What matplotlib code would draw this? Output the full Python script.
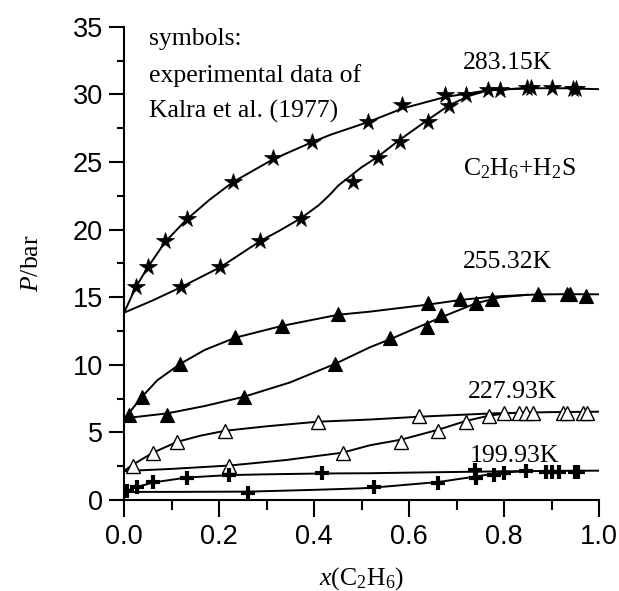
import matplotlib
matplotlib.use("Agg")
import matplotlib.pyplot as plt

# ---------------- data ----------------
# 283.15 K
s283_up_x = [0.025, 0.051, 0.087, 0.132, 0.229, 0.314, 0.395, 0.514, 0.586, 0.676, 0.721, 0.766, 0.792, 0.848, 0.857, 0.902, 0.946, 0.952]
s283_up_p = [15.75, 17.26, 19.13, 20.77, 23.54, 25.30, 26.48, 27.95, 29.20, 29.93, 29.93, 30.32, 30.32, 30.47, 30.47, 30.47, 30.40, 30.40]
s283_lo_x = [0.119, 0.203, 0.287, 0.373, 0.482, 0.535, 0.580, 0.640, 0.684]
s283_lo_p = [15.75, 17.26, 19.17, 20.77, 23.54, 25.30, 26.48, 27.95, 29.12]
c283_up_x = [0.0, 0.01, 0.025, 0.05, 0.087, 0.132, 0.18, 0.229, 0.314, 0.395, 0.434, 0.514, 0.586, 0.676, 0.767, 0.855, 0.925, 1.0]
c283_up_p = [13.85, 14.6, 15.75, 17.2, 19.1, 20.75, 22.2, 23.5, 25.2, 26.45, 27.0, 27.95, 28.95, 29.8, 30.3, 30.45, 30.45, 30.38]
c283_lo_x = [0.0, 0.06, 0.119, 0.203, 0.287, 0.33, 0.373, 0.41, 0.434, 0.451, 0.5, 0.535, 0.579, 0.639, 0.685, 0.728, 0.767, 0.83, 0.87]
c283_lo_p = [13.85, 14.75, 15.72, 17.22, 19.15, 19.97, 20.85, 21.8, 22.6, 23.25, 24.6, 25.4, 26.6, 28.1, 29.2, 29.9, 30.3, 30.43, 30.47]

# 255.32 K
s255_up_x = [0.011, 0.038, 0.118, 0.234, 0.332, 0.451, 0.639, 0.707, 0.774, 0.871, 0.932, 0.939, 0.972]
s255_up_p = [6.30, 7.64, 10.06, 12.05, 12.87, 13.72, 14.55, 14.86, 14.86, 15.21, 15.21, 15.21, 15.12]
s255_lo_x = [0.090, 0.253, 0.444, 0.561, 0.637, 0.667, 0.741]
s255_lo_p = [6.30, 7.64, 10.06, 11.96, 12.77, 13.68, 14.55]
c255_up_x = [0.0, 0.011, 0.038, 0.07, 0.118, 0.17, 0.234, 0.332, 0.451, 0.518, 0.64, 0.71, 0.78, 0.87, 0.93, 1.0]
c255_up_p = [6.04, 6.45, 7.64, 8.85, 10.06, 11.1, 12.0, 12.87, 13.7, 13.93, 14.45, 14.8, 15.05, 15.2, 15.22, 15.21]
c255_lo_x = [0.0, 0.09, 0.17, 0.253, 0.35, 0.444, 0.518, 0.561, 0.637, 0.667, 0.741, 0.792, 0.85]
c255_lo_p = [6.04, 6.4, 6.95, 7.64, 8.7, 10.06, 11.3, 11.9, 13.05, 13.5, 14.55, 14.99, 15.18]

# 227.93 K
s227_up_x = [0.018, 0.061, 0.112, 0.213, 0.408, 0.622, 0.800, 0.832, 0.846, 0.862, 0.924, 0.933, 0.966, 0.974]
s227_up_p = [2.53, 3.51, 4.31, 5.12, 5.79, 6.23, 6.46, 6.46, 6.46, 6.46, 6.46, 6.46, 6.46, 6.46]
s227_lo_x = [0.222, 0.460, 0.583, 0.662, 0.720, 0.769]
s227_lo_p = [2.51, 3.51, 4.31, 5.08, 5.75, 6.18]
c227_up_x = [0.0, 0.018, 0.061, 0.112, 0.16, 0.213, 0.3, 0.408, 0.518, 0.622, 0.778, 0.9, 1.0]
c227_up_p = [2.14, 2.6, 3.5, 4.3, 4.75, 5.12, 5.45, 5.79, 5.95, 6.16, 6.41, 6.5, 6.53]
c227_lo_x = [0.0, 0.1, 0.222, 0.342, 0.46, 0.518, 0.583, 0.662, 0.72, 0.769, 0.805, 0.85]
c227_lo_p = [2.14, 2.3, 2.55, 2.96, 3.5, 4.05, 4.46, 5.2, 5.85, 6.24, 6.41, 6.48]

# 199.93 K
s199_up_x = [0.028, 0.062, 0.132, 0.220, 0.416, 0.739, 0.800, 0.846, 0.888, 0.902, 0.916, 0.949, 0.956]
s199_up_p = [0.97, 1.33, 1.66, 1.83, 2.00, 2.20, 2.02, 2.15, 2.10, 2.10, 2.10, 2.10, 2.10]
s199_lo_x = [0.006, 0.262, 0.526, 0.662, 0.742, 0.778]
s199_lo_p = [0.65, 0.54, 0.94, 1.25, 1.60, 1.86]
c199_up_x = [0.0, 0.028, 0.062, 0.132, 0.22, 0.3, 0.416, 0.518, 0.65, 0.8, 0.9, 1.0]
c199_up_p = [0.6, 0.97, 1.3, 1.66, 1.84, 1.9, 1.96, 1.98, 2.05, 2.12, 2.15, 2.17]
c199_lo_x = [0.0, 0.1, 0.262, 0.4, 0.497, 0.526, 0.662, 0.739, 0.792, 0.83]
c199_lo_p = [0.6, 0.6, 0.62, 0.75, 0.86, 0.92, 1.33, 1.73, 2.02, 2.1]

x_ticks = [0.0, 0.2, 0.4, 0.6, 0.8, 1.0]
x_ticklabels = ["0.0", "0.2", "0.4", "0.6", "0.8", "1.0"]
y_ticks = [0, 5, 10, 15, 20, 25, 30, 35]
y_ticklabels = ["0", "5", "10", "15", "20", "25", "30", "35"]

# ---------------- style ----------------
plt.rcParams['mathtext.fontset'] = 'custom'
plt.rcParams['mathtext.rm'] = 'Liberation Serif'
plt.rcParams['mathtext.it'] = 'Liberation Serif:italic'
plt.rcParams['mathtext.bf'] = 'Liberation Serif:bold'

fig = plt.figure(figsize=(6.19, 5.91), dpi=100)
ax = fig.add_axes([124/619, 1-500/591, 475/619, 473.3/591])

lw = 1.4
line_kw = dict(color='black', lw=lw, zorder=2)
for cx, cp in [(c283_up_x, c283_up_p), (c283_lo_x, c283_lo_p),
               (c255_up_x, c255_up_p), (c255_lo_x, c255_lo_p),
               (c227_up_x, c227_up_p), (c227_lo_x, c227_lo_p),
               (c199_up_x, c199_up_p), (c199_lo_x, c199_lo_p)]:
    ax.plot(cx, cp, **line_kw)

ax.plot(s283_up_x + s283_lo_x, s283_up_p + s283_lo_p, ls='none', marker='*',
        ms=13, mfc='black', mec='black', mew=0.5, zorder=3)
ax.plot(s255_up_x + s255_lo_x, s255_up_p + s255_lo_p, ls='none', marker='^',
        ms=10, mfc='black', mec='black', mew=0.8, zorder=3)
ax.plot(s227_up_x + s227_lo_x, s227_up_p + s227_lo_p, ls='none', marker='^',
        ms=10, mfc='white', mec='black', mew=1.0, zorder=3)
ax.plot(s199_up_x + s199_lo_x, s199_up_p + s199_lo_p, ls='none', marker='+',
        ms=10, mec='black', mew=3.0, zorder=3)

ax.set_xlim(0, 1.0)
ax.set_ylim(0, 35)
ax.set_xticks(x_ticks)
ax.set_xticklabels(x_ticklabels)
ax.set_yticks(y_ticks)
ax.set_yticklabels(y_ticklabels)
ax.set_xticks([0.1, 0.3, 0.5, 0.7, 0.9], minor=True)
ax.set_yticks([2.5, 7.5, 12.5, 17.5, 22.5, 27.5, 32.5], minor=True)

for s in ['top', 'right']:
    ax.spines[s].set_visible(False)
for s in ['left', 'bottom']:
    ax.spines[s].set_linewidth(1.5)

ax.tick_params(axis='x', which='major', direction='out', length=12, width=1.5, pad=5)
ax.tick_params(axis='x', which='minor', direction='out', length=7, width=1.5)
ax.tick_params(axis='y', which='major', direction='out', length=11, width=1.5, pad=4)
ax.tick_params(axis='y', which='minor', direction='out', length=5, width=1.5)
for lab in ax.get_xticklabels() + ax.get_yticklabels():
    lab.set_fontfamily('Liberation Sans')
    lab.set_fontsize(19.5)

fs = 18.5
ax.set_xlabel(r'$x(\mathrm{C_2H_6})$', fontsize=fs, labelpad=11)
ax.set_ylabel(r'$P\mathrm{/bar}$', fontsize=fs, labelpad=21)

serif = 'Liberation Serif'
ax.text(0.053, 33.65, 'symbols:', family=serif, fontsize=fs, va='baseline')
ax.text(0.053, 30.92, 'experimental data of', family=serif, fontsize=fs, va='baseline')
ax.text(0.053, 28.25, 'Kalra et al. (1977)', family=serif, fontsize=fs, va='baseline')
ax.text(0.714, 31.88, '283.15K', family=serif, fontsize=fs, va='baseline')
ax.text(0.714, 24.04, r'$\mathrm{C_2H_6{+}H_2S}$', fontsize=fs, va='baseline')
ax.text(0.714, 17.16, '255.32K', family=serif, fontsize=fs, va='baseline')
ax.text(0.724, 7.54, '227.93K', family=serif, fontsize=fs, va='baseline')
ax.text(0.728, 2.81, '199.93K', family=serif, fontsize=fs, va='baseline')

fig.savefig('out.png', dpi=100)
